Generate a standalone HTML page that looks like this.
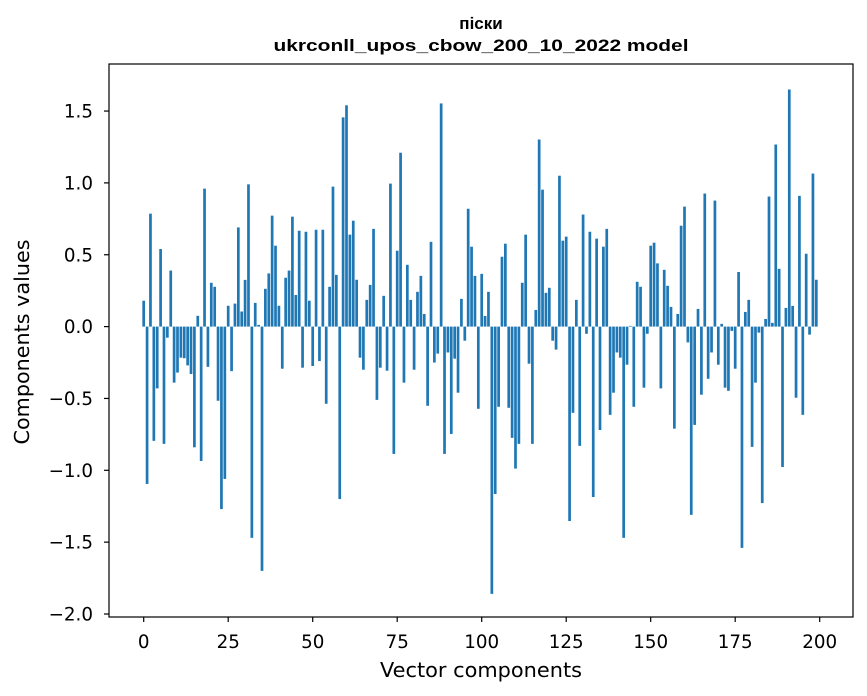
<!DOCTYPE html>
<html><head><meta charset="utf-8"><style>
html,body{margin:0;padding:0;background:#fff;}
svg{display:block;font-family:"DejaVu Sans","Liberation Sans",sans-serif;}
</style></head><body>
<svg id="chart" width="867" height="696" viewBox="0 0 867 696" xmlns="http://www.w3.org/2000/svg">
<rect width="867" height="696" fill="#fff"/>
<text x="481" y="29" text-anchor="middle" font-size="17" font-weight="bold" font-family="Liberation Sans, sans-serif">піски</text>
<text x="481" y="51" text-anchor="middle" font-size="17" font-weight="bold" font-family="Liberation Sans, sans-serif" textLength="415" lengthAdjust="spacingAndGlyphs">ukrconll_upos_cbow_200_10_2022 model</text>
<g id="bars"></g>
<g id="yticks"></g>
<g id="xticks"></g>
<rect x="109" y="64" width="744" height="553" fill="none" stroke="#000" stroke-width="1.2"/>
<text transform="translate(29,342) rotate(-90)" text-anchor="middle" font-size="20.5" textLength="205" lengthAdjust="spacingAndGlyphs">Components values</text>
<text x="481" y="677" text-anchor="middle" font-size="20.5" textLength="202" lengthAdjust="spacingAndGlyphs">Vector components</text>
</svg>
<script>
const values = [
0.18,-1.095,0.786,-0.795,-0.43,0.54,-0.816,-0.077,0.39,-0.39,
-0.32,-0.216,-0.22,-0.27,-0.33,-0.84,0.075,-0.935,0.96,-0.28,
0.305,0.277,-0.516,-1.27,-1.06,0.145,-0.31,0.16,0.69,0.105,
0.325,0.99,-1.47,0.165,0.012,-1.7,0.263,0.37,0.772,0.563,
0.145,-0.293,0.34,0.39,0.765,0.22,0.667,-0.286,0.66,0.18,
-0.274,0.674,-0.24,0.674,-0.537,0.277,0.974,0.36,-1.2,1.456,
1.54,0.64,0.737,0.326,-0.216,-0.3,0.186,0.29,0.68,-0.51,
-0.286,0.214,-0.307,0.995,-0.886,0.528,1.21,-0.39,0.43,0.186,
-0.3,0.242,0.353,0.088,-0.551,0.59,-0.25,-0.188,1.553,-0.886,
-0.18,-0.747,-0.223,-0.46,0.193,-0.098,0.82,0.556,0.353,-0.572,
0.367,0.074,0.242,-1.86,-1.165,-0.558,0.486,0.577,-0.565,-0.774,
-0.988,-0.816,0.305,0.64,-0.258,-0.816,0.116,1.302,0.953,0.235,
0.27,-0.098,-0.16,1.05,0.598,0.626,-1.353,-0.6,0.186,-0.83,
0.78,-0.05,0.66,-1.186,0.612,-0.72,0.556,0.68,-0.614,-0.46,
-0.18,-0.216,-1.47,-0.265,0.005,-0.558,0.312,0.277,-0.425,-0.05,
0.563,0.584,0.44,-0.43,0.395,0.284,0.137,-0.71,0.088,0.702,
0.835,-0.11,-1.31,-0.684,0.123,-0.474,0.926,-0.363,-0.18,0.877,
-0.265,0.019,-0.425,-0.447,-0.03,-0.293,0.38,-1.54,0.102,0.186,
-0.837,-0.39,-0.042,-1.228,0.053,0.905,0.026,1.267,0.402,-0.977,
0.13,1.65,0.144,-0.495,0.91,-0.614,0.507,-0.056,1.065,0.326
];
const yTicks = [1.5,1.0,0.5,0.0,-0.5,-1.0,-1.5,-2.0];
const yTickLabels = ["1.5","1.0","0.5","0.0","\u22120.5","\u22121.0","\u22121.5","\u22122.0"];
const xTicks = [0,25,50,75,100,125,150,175,200];
const xTickLabels = ["0","25","50","75","100","125","150","175","200"];

const NS="http://www.w3.org/2000/svg";
const X0=143.7, XS=3.38, Y0=326.6, YS=143.7;
function xs(v){return X0+v*XS;}
function ys(v){return Y0-v*YS;}
const barsG=document.getElementById('bars');
values.forEach((v,i)=>{
  const r=document.createElementNS(NS,'rect');
  
  
  const y1=ys(Math.max(v,0)), y2=ys(Math.min(v,0));
  r.setAttribute('x',xs(i-0.4));
  r.setAttribute('y',y1);
  r.setAttribute('width',0.8*XS);
  r.setAttribute('height',Math.max(y2-y1,0.01));
  r.setAttribute('fill','#1f77b4');
  barsG.appendChild(r);
});
const yg=document.getElementById('yticks');
yTicks.forEach((t,i)=>{
  const l=document.createElementNS(NS,'line');
  
  
  l.setAttribute('x1',104);l.setAttribute('x2',109);
  l.setAttribute('y1',ys(t));l.setAttribute('y2',ys(t));
  l.setAttribute('stroke','#000');l.setAttribute('stroke-width','1.2');
  yg.appendChild(l);
  const tx=document.createElementNS(NS,'text');
  
  
  tx.setAttribute('x',93);tx.setAttribute('y',ys(t)+6.5);
  tx.setAttribute('text-anchor','end');tx.setAttribute('font-size','18.3');
  tx.textContent=yTickLabels[i];
  yg.appendChild(tx);
});
const xg=document.getElementById('xticks');
xTicks.forEach((t,i)=>{
  const l=document.createElementNS(NS,'line');
  
  
  l.setAttribute('x1',xs(t));l.setAttribute('x2',xs(t));
  l.setAttribute('y1',617);l.setAttribute('y2',622);
  l.setAttribute('stroke','#000');l.setAttribute('stroke-width','1.2');
  xg.appendChild(l);
  const tx=document.createElementNS(NS,'text');
  
  
  tx.setAttribute('x',xs(t));tx.setAttribute('y',648);
  tx.setAttribute('text-anchor','middle');tx.setAttribute('font-size','18.3');
  tx.textContent=xTickLabels[i];
  xg.appendChild(tx);
});
</script>
</body></html>
